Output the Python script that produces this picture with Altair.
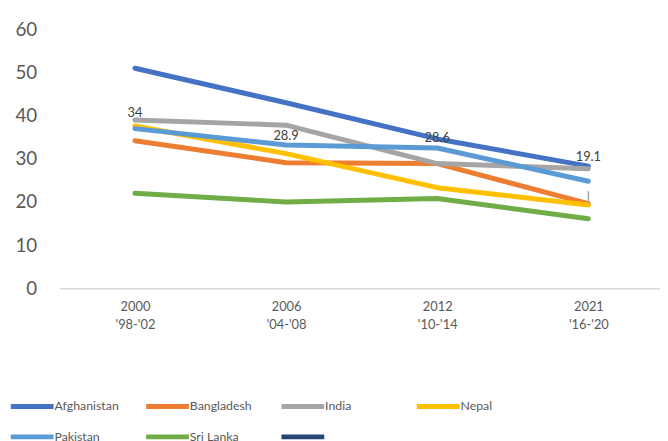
import altair as alt
import pandas as pd

# ---- data ----
periods = ["2000|'98-'02", "2006|'04-'08", "2012|'10-'14", "2021|'16-'20"]
countries = ["Afghanistan", "Bangladesh", "India", "Nepal", "Pakistan", "Sri Lanka"]
afghanistan = [51.0, 43.0, 34.6, 28.3]
bangladesh = [34.2, 29.1, 28.9, 19.6]
india = [39.0, 37.8, 28.9, 27.7]
nepal = [37.6, 31.2, 23.3, 19.3]
pakistan = [37.0, 33.2, 32.5, 24.8]
sri_lanka = [22.0, 20.0, 20.8, 16.1]
unnamed_series = "Series 7"          # 7th legend entry, no label, no visible line
label_text = ["34", "28.9", "28.6", "19.1"]
label_value = [40.6, 35.3, 34.9, 30.3]
tick_period = "2021|'16-'20"
tick_low, tick_high = 19.6, 22.5

colors = ["#4472C4", "#ED7D31", "#A5A5A5", "#FFC000", "#5B9BD5", "#70AD47", "#264478"]

series = [afghanistan, bangladesh, india, nepal, pakistan, sri_lanka]
rows = []
for c, vals in zip(countries, series):
    for p, v in zip(periods, vals):
        rows.append({"country": c, "period": p, "value": v})
df = pd.DataFrame(rows)
labels_df = pd.DataFrame({"period": periods, "value": label_value, "text": label_text})
tick_df = pd.DataFrame({"period": [tick_period], "lo": [tick_low], "hi": [tick_high]})

FONT = "Lato"
GREY = "#595959"

x_enc = alt.X(
    "period:N",
    sort=periods,
    scale=alt.Scale(type="point", range=[0, 612], padding=0.5),
    axis=alt.Axis(
        title=None,
        labelExpr="split(datum.label, '|')",
        labelAngle=0,
        ticks=False,
        grid=False,
        domainColor="#D9D9D9",
        domainWidth=1.5,
        labelFontSize=13,
        labelColor=GREY,
        labelPadding=13,
        labelLineHeight=18,
        labelFont=FONT,
    ),
)
y_scale = alt.Scale(domain=[0, 60])
y_axis = alt.Axis(
    title=None,
    values=[0, 10, 20, 30, 40, 50, 60],
    grid=False,
    domain=False,
    ticks=False,
    labelFontSize=19,
    labelColor=GREY,
    labelPadding=23,
    labelFont=FONT,
)

lines = alt.Chart(df).mark_line(strokeWidth=5, strokeCap="round", strokeJoin="round").encode(
    x=x_enc,
    y=alt.Y("value:Q", scale=y_scale, axis=y_axis),
    color=alt.Color(
        "country:N",
        scale=alt.Scale(domain=countries + [unnamed_series], range=colors),
        legend=alt.Legend(
            title=None,
            orient="none",
            legendX=-52,
            legendY=370,
            direction="horizontal",
            columns=4,
            gridAlign="all",
            columnPadding=16,
            rowPadding=9,
            symbolType="M-1,0H4",
            symbolStrokeWidth=5,
            symbolSize=300,
            symbolFillColor="transparent",
            labelFontSize=12.5,
            labelColor=GREY,
            labelFont=FONT,
            labelOffset=24,
            labelExpr="datum.label == 'Series 7' ? '' : datum.label",
        ),
    ),
    order=alt.Order("period:N"),
)

tick = alt.Chart(tick_df).mark_rule(color="#A5A5A5", strokeWidth=1.5).encode(
    x=alt.X("period:N", sort=periods),
    y=alt.Y("lo:Q"),
    y2="hi:Q",
)

texts = alt.Chart(labels_df).mark_text(fontSize=13, color="#404040", font=FONT).encode(
    x=alt.X("period:N", sort=periods),
    y=alt.Y("value:Q"),
    text="text:N",
)

chart = alt.layer(lines, tick, texts).properties(
    width=608,
    height=262,
    background="white",
    autosize=alt.AutoSizeParams(type="none"),
    padding={"left": 52, "top": 19, "right": 0, "bottom": 152},
).configure_view(stroke=None).configure_axisY(domain=False)

chart.save("out.html", embed_options={"renderer": "svg", "actions": False})
